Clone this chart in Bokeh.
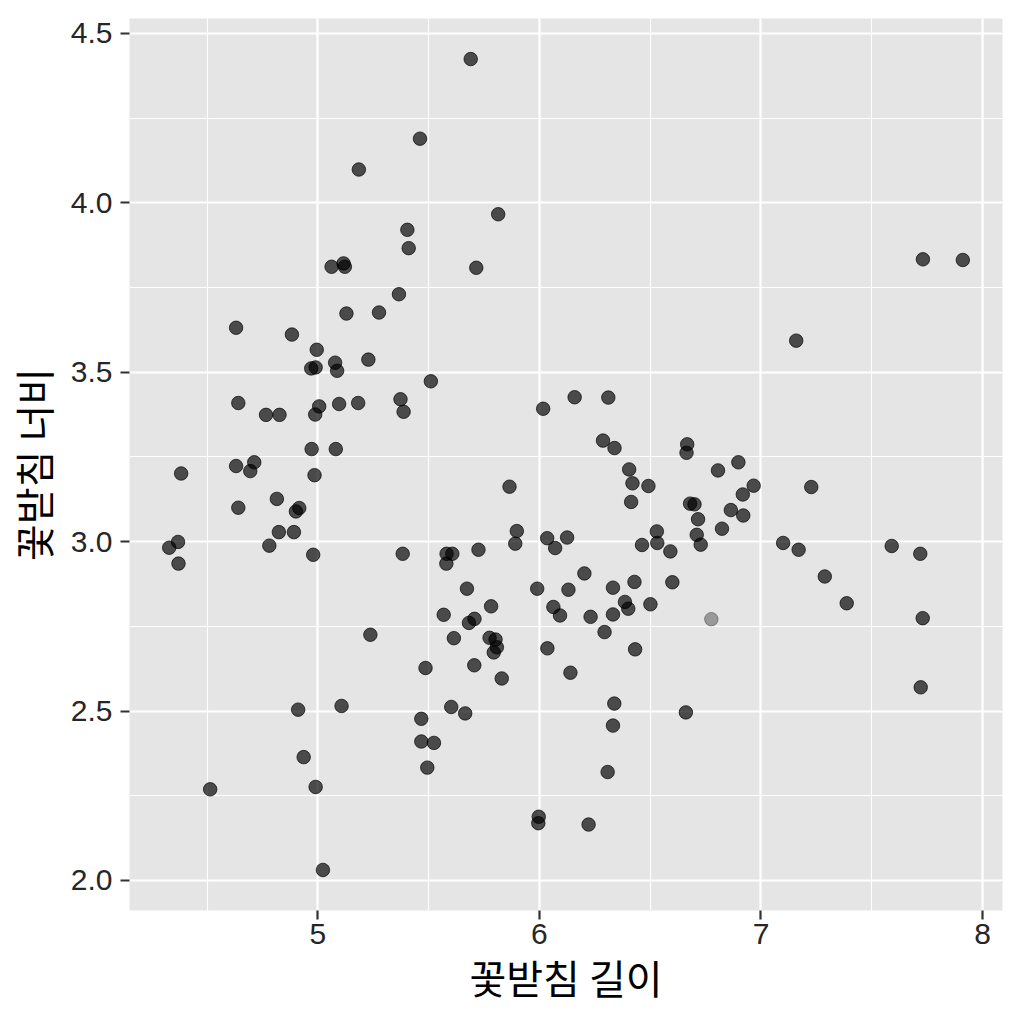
from bokeh.plotting import figure
from bokeh.models import SingleIntervalTicker, Range1d, CustomJSTickFormatter
from bokeh.embed import file_html
from bokeh.resources import INLINE

# sepal length (x) and sepal width (y)
sepal_length = [
    5.690, 5.461, 5.185, 5.814, 5.404, 5.410, 5.715, 5.062, 5.116, 5.122,
    5.366, 5.129, 5.276, 4.631, 4.883, 4.995, 5.228, 5.078, 5.087, 4.970,
    4.990, 5.510, 4.641, 4.766, 4.827, 5.006, 4.988, 5.096, 5.182, 5.373,
    5.387, 4.972, 5.081, 4.383, 4.631, 4.713, 4.695, 4.985, 4.815, 4.641,
    4.916, 4.901, 4.824, 4.892, 4.369, 4.329, 4.371, 4.781, 4.979, 5.383,
    5.581, 5.607, 5.580, 5.568, 5.614, 5.237, 5.486, 4.911, 5.107, 5.602,
    5.665, 5.467, 5.467, 5.524, 5.494, 4.936, 4.990, 4.514, 5.023, 6.159,
    6.311, 6.017, 6.287, 6.339, 6.667, 6.664, 6.405, 6.806, 6.898, 6.420,
    6.492, 5.865, 6.414, 6.680, 6.700, 6.864, 6.918, 6.920, 6.967, 6.716,
    6.824, 5.898, 5.891, 6.035, 6.125, 6.071, 6.530, 6.532, 6.710, 6.728,
    6.463, 6.591, 5.725, 6.203, 5.673, 5.990, 6.131, 6.332, 6.429, 6.600,
    6.501, 6.386, 6.401, 6.063, 6.093, 6.231, 6.332, 5.782, 5.707, 5.682,
    5.775, 5.802, 5.808, 5.794, 6.294, 6.036, 6.432, 5.706, 6.140, 5.830,
    6.338, 6.332, 6.308, 6.661, 5.997, 5.995, 6.222, 7.731, 7.911, 7.159,
    7.227, 7.100, 7.170, 7.590, 7.719, 7.288, 7.387, 7.730, 7.721,
]
sepal_width = [
    4.424, 4.189, 4.098, 3.966, 3.920, 3.866, 3.808, 3.811, 3.821, 3.811,
    3.730, 3.673, 3.676, 3.631, 3.611, 3.566, 3.537, 3.528, 3.504, 3.511,
    3.514, 3.473, 3.409, 3.374, 3.374, 3.399, 3.375, 3.406, 3.409, 3.420,
    3.383, 3.273, 3.273, 3.201, 3.223, 3.234, 3.208, 3.196, 3.126, 3.100,
    3.099, 3.089, 3.028, 3.028, 2.999, 2.982, 2.935, 2.988, 2.961, 2.964,
    2.964, 2.964, 2.935, 2.784, 2.715, 2.725, 2.627, 2.504, 2.515, 2.512,
    2.493, 2.477, 2.410, 2.406, 2.333, 2.364, 2.276, 2.269, 2.031, 3.426,
    3.425, 3.392, 3.298, 3.276, 3.287, 3.262, 3.213, 3.210, 3.234, 3.172,
    3.164, 3.162, 3.117, 3.112, 3.110, 3.093, 3.139, 3.077, 3.165, 3.066,
    3.038, 3.031, 2.994, 3.010, 3.012, 2.981, 3.030, 2.996, 3.020, 2.991,
    2.990, 2.971, 2.976, 2.906, 2.861, 2.861, 2.858, 2.864, 2.881, 2.880,
    2.815, 2.822, 2.802, 2.807, 2.782, 2.778, 2.785, 2.809, 2.772, 2.760,
    2.716, 2.711, 2.688, 2.673, 2.733, 2.685, 2.682, 2.635, 2.613, 2.596,
    2.522, 2.457, 2.320, 2.496, 2.188, 2.169, 2.165, 3.833, 3.831, 3.593,
    3.161, 2.996, 2.976, 2.987, 2.964, 2.897, 2.818, 2.774, 2.570,
]
# one point appears lighter in the reference
faded_length = [6.776]
faded_width = [2.771]

x_label = "꽃받침 길이"
y_label = "꽃받침 너비"

all_x = sepal_length + faded_length
all_y = sepal_width + faded_width
def expand(vals, f=0.05):
    lo, hi = min(vals), max(vals)
    d = (hi - lo) * f
    return lo - d, hi + d

xr = expand(all_x)
yr = expand(all_y)

W, H = 1008, 1008
p = figure(width=W, height=H, output_backend="svg", toolbar_location=None,
           x_range=Range1d(*xr), y_range=Range1d(*yr),
           min_border_left=127, min_border_right=6,
           min_border_top=18, min_border_bottom=94,
           background_fill_color="#E5E5E5", border_fill_color="white")
p.outline_line_color = None

p.xaxis.ticker = SingleIntervalTicker(interval=1, num_minor_ticks=2)
p.yaxis.ticker = SingleIntervalTicker(interval=0.5, num_minor_ticks=2)
p.yaxis.formatter = CustomJSTickFormatter(code="return tick.toFixed(1);")

for ax in (p.xaxis, p.yaxis):
    ax.axis_line_color = None
    ax.major_tick_line_color = "#333333"
    ax.major_tick_line_width = 2.2
    ax.major_tick_out = 9
    ax.major_tick_in = 0
    ax.minor_tick_out = 0
    ax.minor_tick_in = 0
    ax.major_label_text_font = "Liberation Sans"
    ax.major_label_text_font_size = "30px"
    ax.major_label_text_color = "#262626"
    ax.axis_label_text_font = "Noto Sans CJK KR"
    ax.axis_label_text_font_size = "40px"
    ax.axis_label_text_font_style = "normal"
    ax.axis_label_text_color = "black"

p.xaxis.major_label_standoff = 4
p.yaxis.major_label_standoff = 8
p.xaxis.axis_label = x_label
p.yaxis.axis_label = y_label
p.xaxis.axis_label_standoff = 1
p.yaxis.axis_label_standoff = 6

for g in (p.xgrid, p.ygrid):
    g.grid_line_color = "white"
    g.grid_line_width = 2.2
    g.minor_grid_line_color = "white"
    g.minor_grid_line_width = 1.1

p.scatter(sepal_length, sepal_width, size=13.5, fill_color="black", fill_alpha=0.68,
          line_color="black", line_alpha=0.68, line_width=1)
p.scatter(faded_length, faded_width, size=13.5, fill_color="black", fill_alpha=0.33,
          line_color="black", line_alpha=0.33, line_width=1)

open("out.html", "w").write(file_html(p, INLINE))
